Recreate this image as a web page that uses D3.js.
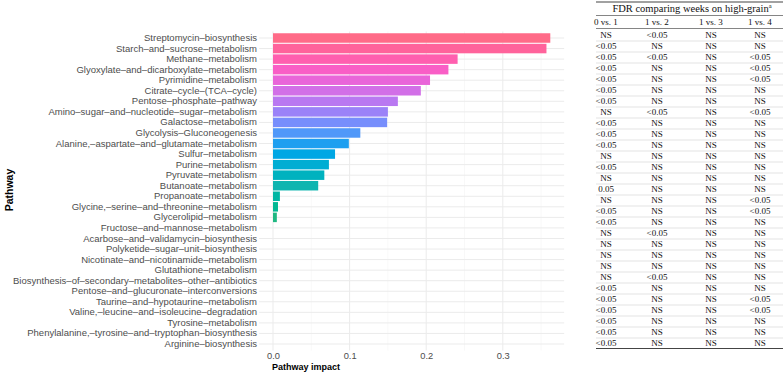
<!DOCTYPE html>
<html>
    <head>
        <meta charset="UTF-8">
        <script src="https://d3js.org/d3.v7.min.js"></script>
        <style>
            body { margin: 0; background: #fff; }
        </style>
    </head>

    <body>

        <svg id="canvas"></svg>

        <script>

            width = 783;
            height = 378;

            // pathways, top to bottom
            pathways = [
                "Streptomycin–biosynthesis",
                "Starch–and–sucrose–metabolism",
                "Methane–metabolism",
                "Glyoxylate–and–dicarboxylate–metabolism",
                "Pyrimidine–metabolism",
                "Citrate–cycle–(TCA–cycle)",
                "Pentose–phosphate–pathway",
                "Amino–sugar–and–nucleotide–sugar–metabolism",
                "Galactose–metabolism",
                "Glycolysis–Gluconeogenesis",
                "Alanine,–aspartate–and–glutamate–metabolism",
                "Sulfur–metabolism",
                "Purine–metabolism",
                "Pyruvate–metabolism",
                "Butanoate–metabolism",
                "Propanoate–metabolism",
                "Glycine,–serine–and–threonine–metabolism",
                "Glycerolipid–metabolism",
                "Fructose–and–mannose–metabolism",
                "Acarbose–and–validamycin–biosynthesis",
                "Polyketide–sugar–unit–biosynthesis",
                "Nicotinate–and–nicotinamide–metabolism",
                "Glutathione–metabolism",
                "Biosynthesis–of–secondary–metabolites–other–antibiotics",
                "Pentose–and–glucuronate–interconversions",
                "Taurine–and–hypotaurine–metabolism",
                "Valine,–leucine–and–isoleucine–degradation",
                "Tyrosine–metabolism",
                "Phenylalanine,–tyrosine–and–tryptophan–biosynthesis",
                "Arginine–biosynthesis"
            ];

            impact = [0.362, 0.357, 0.241, 0.229, 0.205, 0.193, 0.163, 0.150, 0.149, 0.114,
                      0.099, 0.081, 0.073, 0.067, 0.059, 0.009, 0.0065, 0.005, 0, 0,
                      0, 0, 0, 0, 0, 0, 0, 0, 0, 0];

            xTicks = [0, 0.1, 0.2, 0.3];
            xMinor = [0.05, 0.15, 0.25, 0.35];

            // FDR table
            tableTitle = "FDR comparing weeks on high-grain";
            tableCols = ["0 vs. 1", "1 vs. 2", "1 vs. 3", "1 vs. 4"];
            fdr01 = ["NS","<0.05","<0.05","<0.05","<0.05","<0.05","<0.05","NS","<0.05","<0.05",
                     "<0.05","NS","<0.05","NS","0.05","NS","<0.05","<0.05","NS","NS",
                     "NS","NS","NS","<0.05","<0.05","<0.05","<0.05","<0.05","<0.05"];
            fdr12 = ["<0.05","NS","<0.05","NS","NS","NS","NS","<0.05","NS","NS",
                     "NS","NS","NS","NS","NS","NS","NS","NS","<0.05","NS",
                     "NS","NS","<0.05","NS","NS","NS","NS","NS","NS"];
            fdr13 = ["NS","NS","NS","NS","NS","NS","NS","NS","NS","NS",
                     "NS","NS","NS","NS","NS","NS","NS","NS","NS","NS",
                     "NS","NS","NS","NS","NS","NS","NS","NS","NS"];
            fdr14 = ["NS","NS","<0.05","<0.05","<0.05","NS","NS","<0.05","NS","NS",
                     "NS","NS","NS","NS","NS","<0.05","<0.05","NS","NS","NS",
                     "NS","NS","NS","NS","<0.05","<0.05","NS","NS","NS"];

            data = pathways.map((d, i) => ({ name: d, value: impact[i] }));

            canvas = d3.select("#canvas")
                .attr("width", width)
                .attr("height", height)
                .style("font-family", "Liberation Sans, Arial, sans-serif");

            canvas.append("rect")
                .attr("width", width).attr("height", height)
                .attr("fill", "#fff");

            // ---------- bar chart ----------
            x = d3.scaleLinear()
                .domain([0, 0.1])
                .range([273, 349.6]);

            y = d3.scaleBand()
                .domain(pathways)
                .range([32.2, 349.8])
                .padding(0.1);

            // ggplot-like 5% expansion of the value range
            vmax = d3.max(impact);
            panel = { left: x(-0.05 * vmax), right: x(1.05 * vmax), top: 31.5, bottom: 350.5 };

            nBars = data.filter(d => d.value > 0).length;
            color = d3.scaleLinear()
                .domain(d3.range(6).map(i => i * (nBars - 1) / 5))
                .range(["#ff6b88", "#f55fcf", "#a27ff6", "#0da0ee", "#1cb4b4", "#1fb882"])
                .interpolate(d3.interpolateHcl);

            chart = canvas.append("g");

            grid = chart.append("g").attr("class", "grid");

            // minor vertical grid
            grid.selectAll(".minor")
                .data(xMinor).enter()
                .append("line")
                    .attr("x1", d => x(d)).attr("x2", d => x(d))
                    .attr("y1", panel.top).attr("y2", panel.bottom)
                    .attr("stroke", "#f3f3f3").attr("stroke-width", 0.6);

            // major vertical grid
            grid.selectAll(".major")
                .data(xTicks).enter()
                .append("line")
                    .attr("x1", d => x(d)).attr("x2", d => x(d))
                    .attr("y1", panel.top).attr("y2", panel.bottom)
                    .attr("stroke", "#ebebeb").attr("stroke-width", 1);

            // horizontal grid
            grid.selectAll(".hline")
                .data(pathways).enter()
                .append("line")
                    .attr("x1", panel.left).attr("x2", panel.right)
                    .attr("y1", d => y(d) + y.bandwidth() / 2)
                    .attr("y2", d => y(d) + y.bandwidth() / 2)
                    .attr("stroke", "#ebebeb").attr("stroke-width", 1);

            chart.append("g")
                .selectAll(".bar")
                    .data(data.filter(d => d.value > 0)).enter()
                        .append("rect")
                            .attr("class", "bar")
                            .attr("x", x(0))
                            .attr("y", d => y(d.name))
                            .attr("width", d => x(d.value) - x(0))
                            .attr("height", y.bandwidth())
                            .attr("fill", (d, i) => color(i));

            // y labels
            yAxis = d3.axisLeft(y).tickSize(0).tickPadding(0);
            chart.append("g")
                .attr("transform", "translate(257,0)")
                .call(yAxis)
                .call(g => g.select(".domain").remove())
                .selectAll("text")
                    .attr("fill", "#4d4d4d")
                    .style("font-size", "9.5px");

            // x axis
            xAxis = d3.axisBottom(x).tickValues(xTicks).tickFormat(d3.format(".1f")).tickSize(0).tickPadding(0);
            chart.append("g")
                .attr("transform", "translate(0,352)")
                .call(xAxis)
                .call(g => g.select(".domain").remove())
                .selectAll("text")
                    .attr("fill", "#4d4d4d")
                    .style("font-size", "9.3px");

            chart.append("text")
                .attr("x", 306).attr("y", 370)
                .attr("text-anchor", "middle")
                .style("font-size", "9px").style("font-weight", "bold")
                .text("Pathway impact");

            chart.append("text")
                .attr("transform", "translate(13,190) rotate(-90)")
                .attr("text-anchor", "middle")
                .style("font-size", "10.5px").style("font-weight", "bold")
                .text("Pathway");

            // ---------- FDR table ----------
            table = canvas.append("g")
                .style("font-family", "Liberation Serif, Times New Roman, serif")
                .style("font-size", "9px")
                .attr("fill", "#111");

            tLeft = 596;
            tRight = 783;
            colX = [606, 657, 711, 760];
            rows = d3.range(fdr01.length).map(i => [fdr01[i], fdr12[i], fdr13[i], fdr14[i]]);

            rowY = d3.scaleLinear()
                .domain([0, rows.length - 1])
                .range([35, 343]);

            table.append("line")
                .attr("x1", tLeft).attr("x2", tRight).attr("y1", 2).attr("y2", 2)
                .attr("stroke", "#444").attr("stroke-width", 1.2);

            title = table.append("text")
                .attr("x", 692).attr("y", 12)
                .attr("text-anchor", "middle")
                .style("font-size", "10.5px");
            title.append("tspan").text(tableTitle);
            title.append("tspan").attr("dy", -4).style("font-size", "6.5px").text("a");

            table.append("line")
                .attr("x1", tLeft).attr("x2", tRight).attr("y1", 15.5).attr("y2", 15.5)
                .attr("stroke", "#666").attr("stroke-width", 0.8);

            table.selectAll(".colhead")
                .data(tableCols).enter()
                .append("text")
                    .attr("x", (d, i) => colX[i]).attr("y", 25)
                    .attr("text-anchor", "middle")
                    .text(d => d);

            table.append("line")
                .attr("x1", tLeft).attr("x2", tRight).attr("y1", 28.5).attr("y2", 28.5)
                .attr("stroke", "#666").attr("stroke-width", 0.8);

            // row separators
            table.selectAll(".sep")
                .data(rows.slice(0, -1)).enter()
                .append("line")
                    .attr("x1", tLeft).attr("x2", tRight)
                    .attr("y1", (d, i) => (rowY(i) + rowY(i + 1)) / 2 + 0.5)
                    .attr("y2", (d, i) => (rowY(i) + rowY(i + 1)) / 2 + 0.5)
                    .attr("stroke", "#dcdcdc").attr("stroke-width", 0.8);

            rowG = table.selectAll(".row")
                .data(rows).enter()
                .append("g")
                    .attr("transform", (d, i) => "translate(0," + (rowY(i) + 3.2) + ")");

            rowG.selectAll("text")
                .data(d => d).enter()
                .append("text")
                    .attr("x", (d, i) => colX[i])
                    .attr("text-anchor", "middle")
                    .text(d => d);

            table.append("line")
                .attr("x1", tLeft).attr("x2", tRight).attr("y1", 348.5).attr("y2", 348.5)
                .attr("stroke", "#444").attr("stroke-width", 1.2);

        </script>

    </body>

</html>
